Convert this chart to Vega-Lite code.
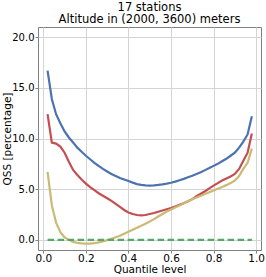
{
  "$schema": "https://vega.github.io/schema/vega-lite/v6.json",
  "autosize": {"type": "none"},
  "width": 223,
  "height": 223,
  "padding": {"left": 38, "top": 27, "right": 5, "bottom": 27},
  "background": "white",
  "title": {
    "text": ["17 stations", "Altitude in (2000, 3600) meters"],
    "font": "DejaVu Sans",
    "fontSize": 11.5,
    "fontWeight": "normal",
    "color": "black",
    "anchor": "middle",
    "lineHeight": 12.7,
    "offset": 1
  },
  "datasets": {
    "curves": [
      {"q":0.02,"blue":16.7,"red":12.4,"yellow":6.7},
      {"q":0.04,"blue":13.9,"red":9.6,"yellow":3.4},
      {"q":0.06,"blue":12.4,"red":9.5,"yellow":1.7},
      {"q":0.08,"blue":11.5,"red":9.2,"yellow":0.75},
      {"q":0.10,"blue":10.7,"red":8.6,"yellow":0.25},
      {"q":0.12,"blue":10.1,"red":7.7,"yellow":0.0},
      {"q":0.14,"blue":9.6,"red":6.9,"yellow":-0.2},
      {"q":0.16,"blue":9.1,"red":6.4,"yellow":-0.3},
      {"q":0.18,"blue":8.7,"red":5.95,"yellow":-0.35},
      {"q":0.20,"blue":8.3,"red":5.55,"yellow":-0.38},
      {"q":0.22,"blue":7.95,"red":5.2,"yellow":-0.38},
      {"q":0.24,"blue":7.6,"red":4.9,"yellow":-0.33},
      {"q":0.26,"blue":7.3,"red":4.6,"yellow":-0.25},
      {"q":0.28,"blue":7.0,"red":4.35,"yellow":-0.15},
      {"q":0.30,"blue":6.75,"red":4.1,"yellow":-0.03},
      {"q":0.32,"blue":6.5,"red":3.85,"yellow":0.1},
      {"q":0.34,"blue":6.3,"red":3.55,"yellow":0.25},
      {"q":0.36,"blue":6.1,"red":3.25,"yellow":0.4},
      {"q":0.38,"blue":5.95,"red":2.95,"yellow":0.6},
      {"q":0.40,"blue":5.8,"red":2.7,"yellow":0.8},
      {"q":0.42,"blue":5.65,"red":2.55,"yellow":1.0},
      {"q":0.44,"blue":5.5,"red":2.45,"yellow":1.2},
      {"q":0.46,"blue":5.42,"red":2.42,"yellow":1.4},
      {"q":0.48,"blue":5.38,"red":2.45,"yellow":1.6},
      {"q":0.50,"blue":5.36,"red":2.55,"yellow":1.8},
      {"q":0.52,"blue":5.38,"red":2.65,"yellow":2.05},
      {"q":0.54,"blue":5.42,"red":2.78,"yellow":2.3},
      {"q":0.56,"blue":5.48,"red":2.9,"yellow":2.55},
      {"q":0.58,"blue":5.55,"red":3.02,"yellow":2.8},
      {"q":0.60,"blue":5.63,"red":3.15,"yellow":3.0},
      {"q":0.62,"blue":5.75,"red":3.3,"yellow":3.2},
      {"q":0.64,"blue":5.88,"red":3.45,"yellow":3.4},
      {"q":0.66,"blue":6.02,"red":3.62,"yellow":3.6},
      {"q":0.68,"blue":6.18,"red":3.8,"yellow":3.8},
      {"q":0.70,"blue":6.33,"red":4.02,"yellow":4.0},
      {"q":0.72,"blue":6.5,"red":4.3,"yellow":4.18},
      {"q":0.74,"blue":6.68,"red":4.55,"yellow":4.35},
      {"q":0.76,"blue":6.88,"red":4.8,"yellow":4.52},
      {"q":0.78,"blue":7.08,"red":5.08,"yellow":4.7},
      {"q":0.80,"blue":7.3,"red":5.35,"yellow":4.88},
      {"q":0.82,"blue":7.5,"red":5.6,"yellow":5.05},
      {"q":0.84,"blue":7.75,"red":5.85,"yellow":5.22},
      {"q":0.86,"blue":8.0,"red":6.05,"yellow":5.4},
      {"q":0.88,"blue":8.3,"red":6.25,"yellow":5.6},
      {"q":0.90,"blue":8.6,"red":6.5,"yellow":5.85},
      {"q":0.92,"blue":9.1,"red":7.0,"yellow":6.3},
      {"q":0.94,"blue":9.7,"red":7.8,"yellow":7.0},
      {"q":0.96,"blue":10.4,"red":8.6,"yellow":7.6},
      {"q":0.98,"blue":12.2,"red":10.5,"yellow":9.0}
    ],
    "zero": [
      {"q":0.02,"v":0},
      {"q":0.98,"v":0}
    ]
  },
  "layer": [
    {
      "data": {"name": "curves"},
      "transform": [{"fold": ["blue", "red", "yellow"], "as": ["series", "v"]}],
      "mark": {"type": "line", "strokeWidth": 2.2, "clip": true},
      "encoding": {
        "x": {
          "field": "q", "type": "quantitative",
          "scale": {"domain": [-0.025, 1.023], "nice": false, "zero": false},
          "axis": {"title": "Quantile level", "values": [0, 0.2, 0.4, 0.6, 0.8, 1.0], "format": ".1f", "labelPadding": 0, "titlePadding": 1}
        },
        "y": {
          "field": "v", "type": "quantitative",
          "scale": {"domain": [-1, 21], "nice": false, "zero": false},
          "axis": {"title": "QSS [percentage]", "values": [0, 2.5, 5, 7.5, 10, 12.5, 15, 17.5, 20], "format": ".1f", "labelPadding": 1, "labelFontSize": 10, "titleX": -28, "titleY": 111.5, "titleBaseline": "alphabetic", "titleFontSize": 10.5}
        },
        "color": {
          "field": "series", "type": "nominal",
          "scale": {"domain": ["blue", "red", "yellow"], "range": ["#4c72b0", "#c44e52", "#ccb974"]},
          "legend": null
        }
      }
    },
    {
      "data": {"name": "zero"},
      "mark": {"type": "line", "strokeWidth": 2.2, "color": "#55a868", "strokeDash": [6.5, 3.5]},
      "encoding": {
        "x": {"field": "q", "type": "quantitative"},
        "y": {"field": "v", "type": "quantitative"}
      }
    }
  ],
  "config": {
    "view": {"stroke": "#808080", "strokeWidth": 1},
    "axis": {
      "domain": false,
      "grid": true,
      "gridColor": "#d4d4d4",
      "gridWidth": 1,
      "ticks": true,
      "tickColor": "#808080",
      "tickSize": 3,
      "labelFont": "DejaVu Sans",
      "labelFontSize": 10.5,
      "labelColor": "black",
      "titleFont": "DejaVu Sans",
      "titleFontSize": 10.5,
      "titleFontWeight": "normal",
      "titleColor": "black"
    }
  }
}
